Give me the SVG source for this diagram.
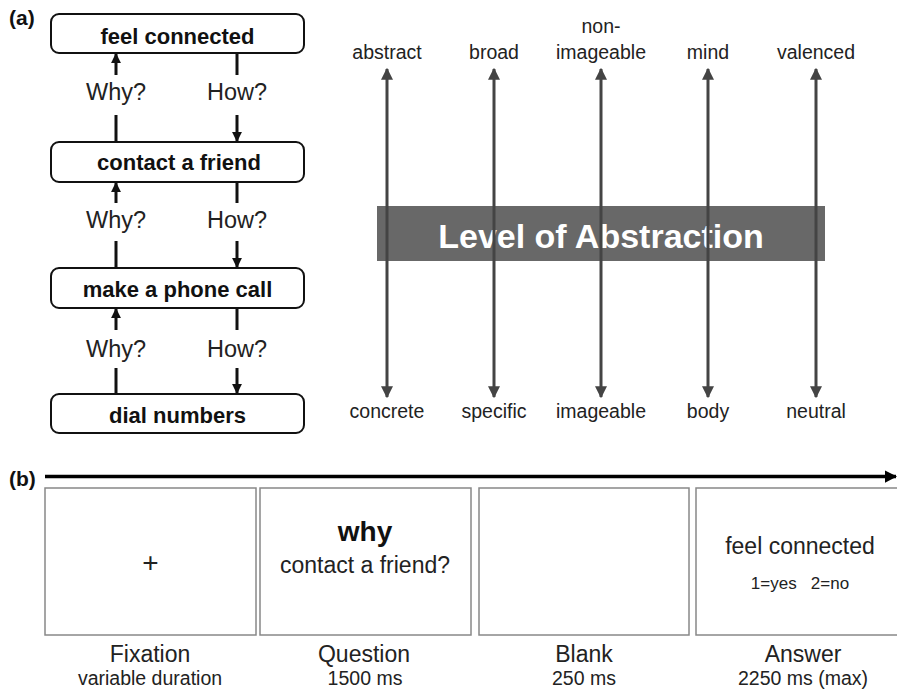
<svg xmlns="http://www.w3.org/2000/svg" width="897" height="690" viewBox="0 0 897 690">
<style>
text{font-family:"Liberation Sans",Arial,sans-serif;fill:#222}
.bx{fill:#fff;stroke:#111;stroke-width:2}
.bt{font-size:22px;font-weight:bold;text-anchor:middle;fill:#111}
.q{font-size:23.5px;text-anchor:middle}
.cl{stroke:#111;stroke-width:3;fill:none}
.al{stroke:#444;stroke-width:3;fill:none}
.lab{font-size:19.5px;text-anchor:middle}
.sb{fill:#fff;stroke:#888;stroke-width:1.5}
.cap{font-size:23px;text-anchor:middle}
.sub{font-size:19.5px;text-anchor:middle}
.pl{font-size:21px;font-weight:bold;fill:#111}
</style>
<defs>
<marker id="ah" viewBox="0 0 10 10" refX="9" refY="5" markerWidth="3.3" markerHeight="3.3" orient="auto" markerUnits="strokeWidth"><path d="M0,0 L10,5 L0,10 z" fill="#111"/></marker>
<marker id="ag" viewBox="0 0 10 10" refX="9" refY="5" markerWidth="4" markerHeight="4" orient="auto-start-reverse" markerUnits="strokeWidth"><path d="M0,0 L10,5 L0,10 z" fill="#444"/></marker>
<marker id="at" viewBox="0 0 10 10" refX="9" refY="5" markerWidth="4" markerHeight="3.5" orient="auto" markerUnits="strokeWidth"><path d="M0,0 L10,5 L0,10 z" fill="#000"/></marker>
</defs>

<text class="pl" x="9" y="25">(a)</text>
<text class="pl" x="9" y="486">(b)</text>

<g id="node-feel-connected"><rect class="bx" x="51" y="14" width="253" height="39" rx="8"/><text class="bt" x="177.5" y="44">feel connected</text></g>
<g id="node-contact-friend"><rect class="bx" x="51" y="142" width="253" height="40" rx="8"/><text class="bt" x="179" y="170">contact a friend</text></g>
<g id="node-phone-call"><rect class="bx" x="51" y="268" width="253" height="40" rx="8"/><text class="bt" x="177.5" y="297">make a phone call</text></g>
<g id="node-dial-numbers"><rect class="bx" x="51" y="394" width="253" height="39" rx="8"/><text class="bt" x="177.5" y="423">dial numbers</text></g>

<g id="connectors">
<line class="cl" x1="116" y1="75" x2="116" y2="54" marker-end="url(#ah)"/>
<line class="cl" x1="116" y1="115" x2="116" y2="142"/>
<line class="cl" x1="237" y1="53" x2="237" y2="75"/>
<line class="cl" x1="237" y1="115" x2="237" y2="141" marker-end="url(#ah)"/>
<line class="cl" x1="116" y1="203" x2="116" y2="183" marker-end="url(#ah)"/>
<line class="cl" x1="116" y1="241" x2="116" y2="268"/>
<line class="cl" x1="237" y1="182" x2="237" y2="203"/>
<line class="cl" x1="237" y1="241" x2="237" y2="267" marker-end="url(#ah)"/>
<line class="cl" x1="116" y1="330" x2="116" y2="309" marker-end="url(#ah)"/>
<line class="cl" x1="116" y1="368" x2="116" y2="394"/>
<line class="cl" x1="237" y1="308" x2="237" y2="330"/>
<line class="cl" x1="237" y1="368" x2="237" y2="393" marker-end="url(#ah)"/>
</g>
<g id="labels-why-how">
<text class="q" x="116" y="100">Why?</text><text class="q" x="237" y="100">How?</text>
<text class="q" x="116" y="228">Why?</text><text class="q" x="237" y="228">How?</text>
<text class="q" x="116" y="357">Why?</text><text class="q" x="237" y="357">How?</text>
</g>

<g id="band"><rect x="377" y="206" width="448" height="55" fill="#686868"/><text x="601" y="248" font-size="34px" font-weight="bold" text-anchor="middle" style="fill:#fff">Level of Abstraction</text></g>
<g id="dimension-arrows">
<line class="al" x1="387" y1="69" x2="387" y2="397" marker-start="url(#ag)" marker-end="url(#ag)"/>
<line class="al" x1="494" y1="69" x2="494" y2="397" marker-start="url(#ag)" marker-end="url(#ag)"/>
<line class="al" x1="601" y1="69" x2="601" y2="397" marker-start="url(#ag)" marker-end="url(#ag)"/>
<line class="al" x1="708" y1="69" x2="708" y2="397" marker-start="url(#ag)" marker-end="url(#ag)"/>
<line class="al" x1="816" y1="69" x2="816" y2="397" marker-start="url(#ag)" marker-end="url(#ag)"/>
</g>
<g id="dimension-labels">
<text class="lab" x="387" y="59">abstract</text>
<text class="lab" x="494" y="59">broad</text>
<text class="lab" x="601" y="33">non-</text>
<text class="lab" x="601" y="59">imageable</text>
<text class="lab" x="708" y="59">mind</text>
<text class="lab" x="816" y="59">valenced</text>
<text class="lab" x="387" y="418">concrete</text>
<text class="lab" x="494" y="418">specific</text>
<text class="lab" x="601" y="418">imageable</text>
<text class="lab" x="708" y="418">body</text>
<text class="lab" x="816" y="418">neutral</text>
</g>

<g id="timeline"><line x1="45" y1="476.5" x2="896" y2="476.5" stroke="#000" stroke-width="3.5" marker-end="url(#at)"/></g>

<g id="screen-fixation"><rect class="sb" x="45" y="488" width="211" height="147"/><text x="150.5" y="572" font-size="28px" text-anchor="middle">+</text>
<text class="cap" x="150" y="662">Fixation</text><text class="sub" x="150" y="685">variable duration</text></g>
<g id="screen-question"><rect class="sb" x="260" y="488" width="211" height="147"/><text x="365" y="541" font-size="28px" font-weight="bold" text-anchor="middle" style="fill:#111">why</text><text class="cap" x="365" y="573">contact a friend?</text>
<text class="cap" x="364" y="662">Question</text><text class="sub" x="365" y="685">1500 ms</text></g>
<g id="screen-blank"><rect class="sb" x="479" y="488" width="210" height="147"/>
<text class="cap" x="584" y="662">Blank</text><text class="sub" x="584" y="685">250 ms</text></g>
<g id="screen-answer"><rect class="sb" x="696" y="488" width="215" height="147"/><text class="cap" x="800" y="554">feel connected</text><text x="800" y="589" font-size="17px" text-anchor="middle" xml:space="preserve">1=yes   2=no</text>
<text class="cap" x="803" y="662">Answer</text><text class="sub" x="803" y="685">2250 ms (max)</text></g>
</svg>
